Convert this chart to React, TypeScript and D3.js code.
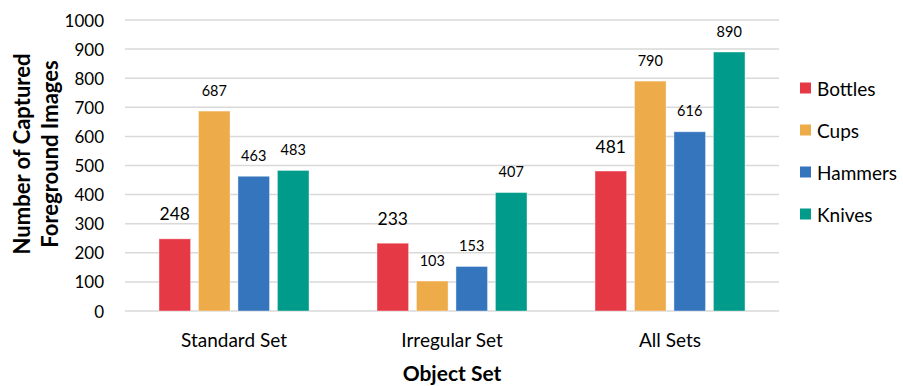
import React from "react";
import * as d3 from "d3";

const categories = ["Standard Set", "Irregular Set", "All Sets"];
const seriesNames = ["Bottles", "Cups", "Hammers", "Knives"];
const bottles = [248, 233, 481];
const cups = [687, 103, 790];
const hammers = [463, 153, 616];
const knives = [483, 407, 890];
const yTicks = [0, 100, 200, 300, 400, 500, 600, 700, 800, 900, 1000];
const colors = ["#E63946", "#EDAB4A", "#3575BD", "#009B8B"];

const W = 903;
const H = 386;
const margin = { left: 125, right: 124, top: 20, bottom: 75 };
const FONT = "Lato, 'Open Sans', sans-serif";

export default function App() {
  const series = [bottles, cups, hammers, knives];
  const x0 = d3
    .scaleBand<string>()
    .domain(categories)
    .range([margin.left, W - margin.right]);
  const groupWidth = 150;
  const x1 = d3
    .scaleBand<string>()
    .domain(seriesNames)
    .range([0, groupWidth])
    .paddingInner(0.2);
  const y = d3
    .scaleLinear()
    .domain([0, 1000])
    .range([H - margin.bottom, margin.top]);

  return (
    <svg
      width={W}
      height={H}
      style={{ position: "absolute", left: 0, top: 0, background: "#fff" }}
      fontFamily={FONT}
    >
      {yTicks.map((t) => (
        <g key={t}>
          <line
            x1={margin.left}
            x2={W - margin.right}
            y1={y(t)}
            y2={y(t)}
            stroke="#d9d9d9"
            strokeWidth={1.5}
          />
          <text
            x={margin.left - 21}
            y={y(t)}
            textAnchor="end"
            dominantBaseline="central"
            fontSize={17}
            fill="#000"
          >
            {t}
          </text>
        </g>
      ))}
      {categories.map((c, ci) => {
        const gx = x0(c)! + (x0.bandwidth() - groupWidth) / 2;
        return (
          <g key={c}>
            {seriesNames.map((s, si) => {
              const v = series[si][ci];
              const bx = gx + x1(s)!;
              const bw = x1.bandwidth();
              const big = si === 0;
              return (
                <g key={s}>
                  <rect
                    x={bx}
                    y={y(v)}
                    width={bw}
                    height={y(0) - y(v)}
                    fill={colors[si]}
                    stroke="#ffffff"
                    strokeOpacity={0.4}
                    strokeWidth={1}
                  />
                  <text
                    x={bx + bw / 2}
                    y={y(v) - (big ? 25 : 21)}
                    textAnchor="middle"
                    dominantBaseline="central"
                    fontSize={big ? 17.5 : 14.5}
                    fill="#000"
                  >
                    {v}
                  </text>
                </g>
              );
            })}
            <text
              x={x0(c)! + x0.bandwidth() / 2}
              y={339}
              textAnchor="middle"
              dominantBaseline="central"
              fontSize={19}
              fill="#000"
            >
              {c}
            </text>
          </g>
        );
      })}
      <text
        x={(margin.left + W - margin.right) / 2}
        y={372}
        textAnchor="middle"
        dominantBaseline="central"
        fontSize={21}
        fontWeight="bold"
        fill="#000"
      >
        Object Set
      </text>
      <g transform="translate(30,154) rotate(-90)">
        <text
          x={0}
          y={0}
          textAnchor="middle"
          fontSize={22}
          fontWeight="bold"
          fill="#000"
        >
          Number of Captured
        </text>
        <text
          x={0}
          y={28}
          textAnchor="middle"
          fontSize={22}
          fontWeight="bold"
          fill="#000"
        >
          Foreground Images
        </text>
      </g>
      {seriesNames.map((s, i) => (
        <g key={s} transform={`translate(800,${88 + i * 42})`}>
          <rect x={0} y={-5.5} width={11} height={11} fill={colors[i]} />
          <text
            x={17}
            y={0}
            dominantBaseline="central"
            fontSize={19}
            fill="#000"
          >
            {s}
          </text>
        </g>
      ))}
    </svg>
  );
}
